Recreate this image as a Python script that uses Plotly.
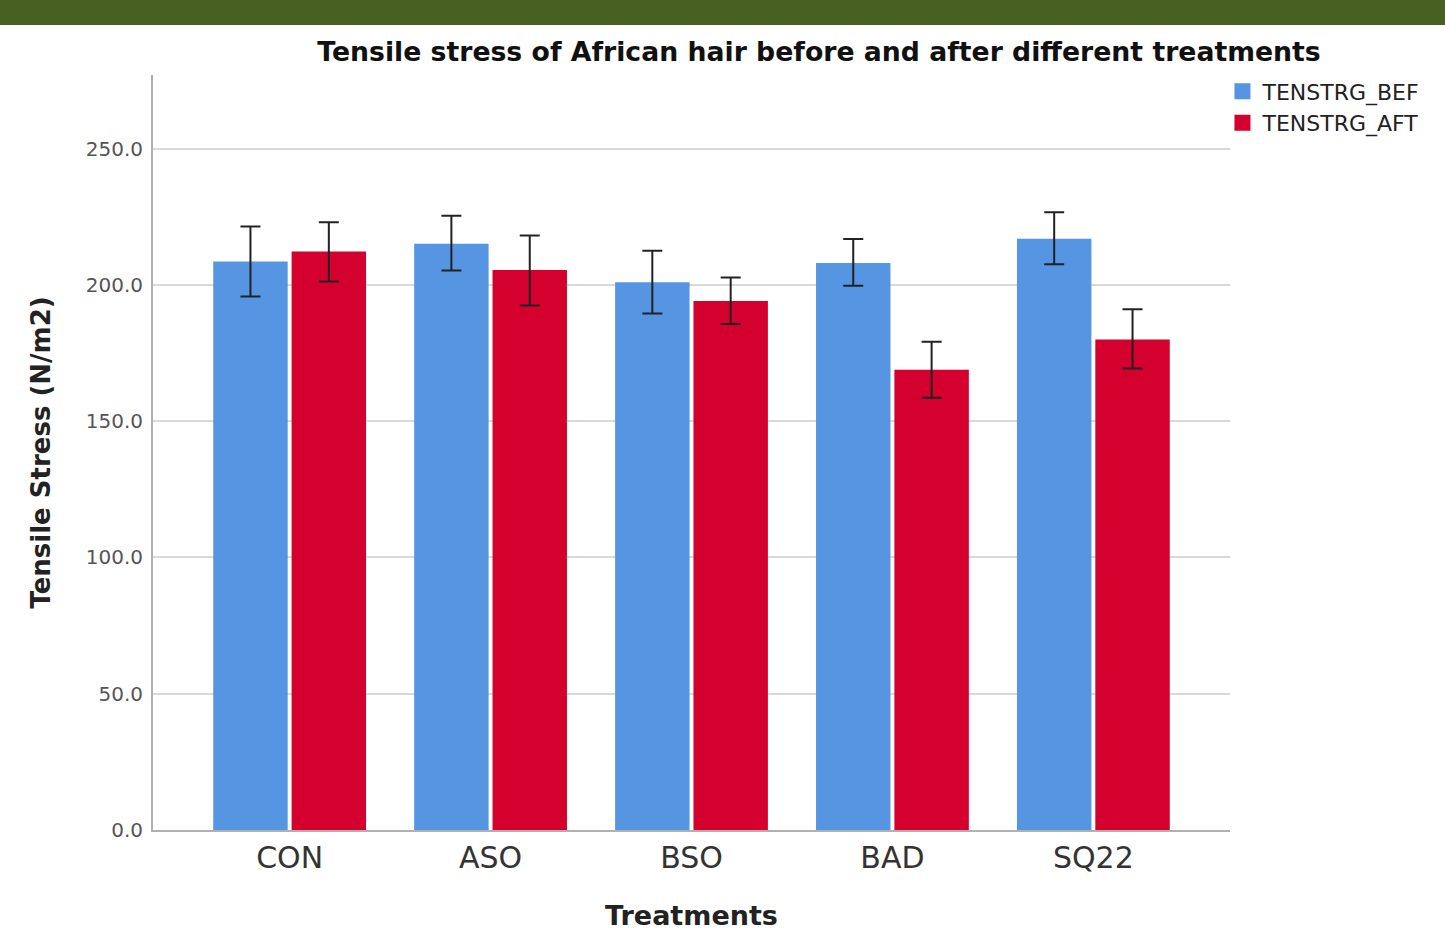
import plotly.graph_objects as go

categories = ["CON", "ASO", "BSO", "BAD", "SQ22"]
bef_mean = [208.6, 215.1, 201.0, 208.0, 216.9]
bef_upper = [221.4, 225.4, 212.5, 216.8, 226.6]
bef_lower = [195.7, 205.3, 189.5, 199.7, 207.6]
aft_mean = [212.2, 205.5, 194.1, 168.9, 180.0]
aft_upper = [223.0, 218.1, 202.7, 179.1, 191.1]
aft_lower = [201.2, 192.4, 185.6, 158.6, 169.3]
y_ticks = [0, 50, 100, 150, 200, 250]
series_names = ["TENSTRG_BEF", "TENSTRG_AFT"]

BLUE = "#5595e1"
RED = "#d4002e"
FONT = "DejaVu Sans, sans-serif"


def err(mean, up, lo):
    return dict(
        type="data", symmetric=False,
        array=[u - m for u, m in zip(up, mean)],
        arrayminus=[m - l for m, l in zip(mean, lo)],
        color="#222222", thickness=2, width=10,
    )


fig = go.Figure()
fig.add_trace(go.Bar(x=categories, y=bef_mean, name=series_names[0], showlegend=False,
                     marker=dict(color=BLUE, line=dict(width=0)),
                     error_y=err(bef_mean, bef_upper, bef_lower)))
fig.add_trace(go.Bar(x=categories, y=aft_mean, name=series_names[1], showlegend=False,
                     marker=dict(color=RED, line=dict(width=0)),
                     error_y=err(aft_mean, aft_upper, aft_lower)))
# legend-only entries with larger square swatches
for nm, col in zip(series_names, [BLUE, RED]):
    fig.add_trace(go.Scatter(x=[None], y=[None], mode="markers", name=nm,
                             marker=dict(symbol="square", size=16, color=col, line=dict(width=0))))

fig.update_layout(
    width=1445, height=937,
    margin=dict(l=153, r=215, t=75, b=107),
    paper_bgcolor="white", plot_bgcolor="white",
    barmode="group", bargap=0.22, bargroupgap=0.05,
    font=dict(family=FONT, color="#222222"),
    title=dict(text="<b>Tensile stress of African hair before and after different treatments</b>",
               x=819 / 1445, xanchor="center", y=1 - 52 / 937, yanchor="middle",
               font=dict(size=26.7, family=FONT, color="#111111")),
    legend=dict(x=0.993, xanchor="left", y=1.006, yanchor="top",
                font=dict(size=22, family=FONT, color="#222222"),
                bgcolor="rgba(0,0,0,0)", tracegroupgap=0, itemwidth=30),
    shapes=[dict(type="rect", xref="paper", yref="paper",
                 x0=-0.2, x1=1.3, y0=(830 - 25) / 755, y1=1.2,
                 fillcolor="#466122", line=dict(width=0), layer="above")],
)
fig.update_xaxes(
    range=[-0.68, 4.68], showline=True, linecolor="#b0b0b0", linewidth=2,
    ticks="", tickfont=dict(size=30, family=FONT, color="#333333"),
    title=dict(text="<b>Treatments</b>", font=dict(size=27, family=FONT, color="#222222"), standoff=32),
    showgrid=False,
)
fig.update_yaxes(
    range=[0, 277], tickvals=y_ticks, ticktext=[f"{v:.1f}" for v in y_ticks],
    showline=True, linecolor="#b0b0b0", linewidth=2, ticks="", ticklabelstandoff=4,
    showgrid=True, gridcolor="#d9d9d9", gridwidth=2, zeroline=False,
    tickfont=dict(size=20, family=FONT, color="#555555"),
    title=dict(text="<b>Tensile Stress (N/m2)</b>", font=dict(size=26, family=FONT, color="#222222"), standoff=28),
)

fig.write_html("out.html", config={"displayModeBar": False},
               post_script="document.body.style.margin='0';document.body.style.overflow='hidden';")
